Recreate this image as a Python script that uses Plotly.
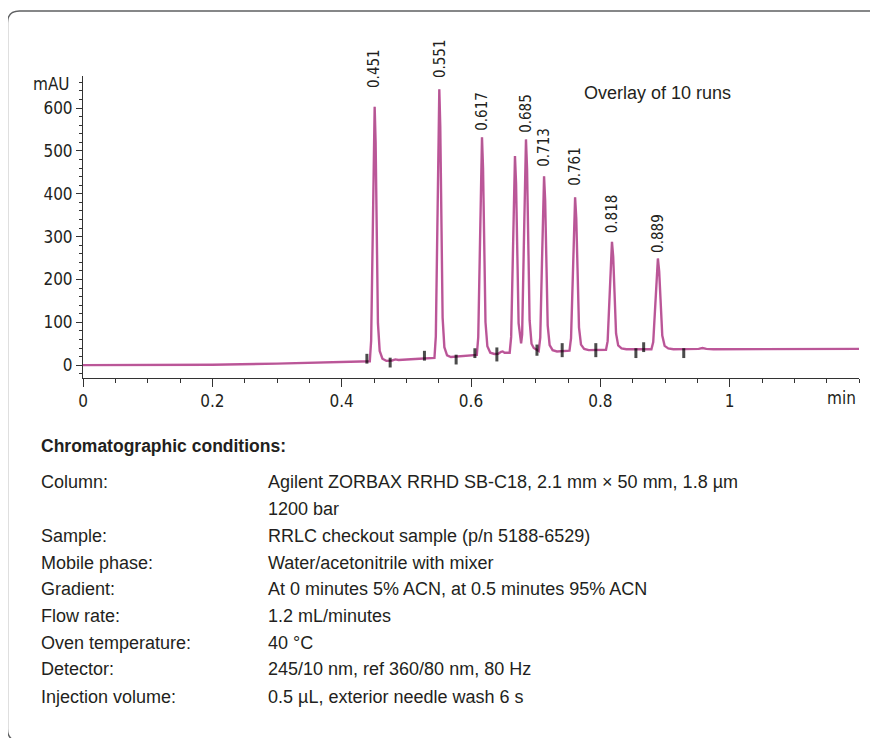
import plotly.graph_objects as go

# ---------------- data ----------------
time_min = [
    0.0, 0.1, 0.2, 0.3, 0.4,
    0.4435, 0.4456, 0.448, 0.4495, 0.451, 0.4525, 0.454, 0.4561, 0.4588, 0.463, 0.469,
    0.478, 0.483, 0.488, 0.52,
    0.5435, 0.5456, 0.548, 0.5495, 0.551, 0.5525, 0.554, 0.5561, 0.5588, 0.563, 0.569,
    0.59,
    0.609, 0.6112, 0.6138, 0.6154, 0.617, 0.6186, 0.6202, 0.6224, 0.6253, 0.6298, 0.6362,
    0.642, 0.6465, 0.649, 0.652,
    0.6598, 0.6621, 0.6647, 0.6664, 0.668, 0.6697, 0.6713, 0.6736,
    0.6775,
    0.6791, 0.6817, 0.6834, 0.685, 0.6867, 0.6883, 0.6906, 0.6936,
    0.697,
    0.7047, 0.7071, 0.7097, 0.7114, 0.713, 0.7147, 0.7163, 0.7186, 0.7216, 0.7262, 0.733,
    0.745,
    0.7523, 0.7547, 0.7575, 0.7593, 0.761, 0.7628, 0.7645, 0.767, 0.7701, 0.775, 0.782,
    0.795,
    0.8088, 0.8113, 0.8143, 0.8162, 0.818, 0.8199, 0.8217, 0.8243, 0.8276, 0.8328, 0.8402,
    0.86,
    0.879, 0.8818, 0.885, 0.887, 0.889, 0.891, 0.893, 0.8958, 0.8994, 0.905, 0.913,
    0.94, 0.952, 0.958, 0.964, 0.975, 1.0, 1.1, 1.2,
]
signal_mau = [
    0, 0, 1, 3.5, 7,
    9, 57, 306, 508, 603, 520, 318, 98, 33, 15, 10,
    11, 13.5, 12, 15,
    17, 67, 331, 544, 644, 556, 343, 111, 42, 23, 19,
    21.5,
    24, 65, 278, 451, 532, 461, 288, 100, 44, 29, 26,
    26.5, 31, 32, 29,
    29, 66, 259, 415, 488, 424, 268, 98,
    51,
    72, 279, 447, 527, 457, 288, 105, 50,
    40,
    33, 64, 236, 375, 441, 384, 244, 93, 47, 35, 32,
    33.5,
    34, 63, 213, 335, 392, 342, 220, 88, 48, 38, 35,
    35.5,
    36, 56, 162, 248, 288, 253, 167, 74, 46, 39, 37,
    36.5,
    37, 54, 143, 215, 249, 219, 147, 69, 45, 39, 37,
    37, 38, 40, 38, 37, 37, 37.5, 38,
]

peak_rt = [0.451, 0.551, 0.617, 0.685, 0.713, 0.761, 0.818, 0.889]
peak_label = ["0.451", "0.551", "0.617", "0.685", "0.713", "0.761", "0.818", "0.889"]
peak_apex = [603, 644, 532, 527, 441, 392, 288, 249]

event_t = [0.439, 0.475, 0.528, 0.577, 0.606, 0.640, 0.702, 0.741, 0.793, 0.855, 0.867, 0.929]
event_mau = [15, 6, 22, 13, 28, 25, 35, 35, 35, 28, 42, 28]

x_tick_vals = [0, 0.2, 0.4, 0.6, 0.8, 1.0]
x_tick_text = ["0", "0.2", "0.4", "0.6", "0.8", "1"]
y_tick_vals = [0, 100, 200, 300, 400, 500, 600]
y_tick_text = ["0", "100", "200", "300", "400", "500", "600"]

cond_title = "Chromatographic conditions:"
cond_labels = ["Column:", "", "Sample:", "Mobile phase:", "Gradient:", "Flow rate:",
               "Oven temperature:", "Detector:", "Injection volume:"]
cond_values = [
    "Agilent ZORBAX RRHD SB-C18, 2.1 mm × 50 mm, 1.8 µm",
    "1200 bar",
    "RRLC checkout sample (p/n 5188-6529)",
    "Water/acetonitrile with mixer",
    "At 0 minutes 5% ACN, at 0.5 minutes 95% ACN",
    "1.2 mL/minutes",
    "40 °C",
    "245/10 nm, ref 360/80 nm, 80 Hz",
    "0.5 µL, exterior needle wash 6 s",
]

# ---------------- styling / layout ----------------
OFF = 8  # the page body adds an 8 px margin
W, H = 878 - OFF, 738 - OFF
ML, MT = 83 - OFF, 76 - OFF
MR = W - (859 - OFF)
MB = H - (378 - OFF)
PW, PH = W - ML - MR, H - MT - MB

NARROW = "DejaVu Sans Condensed, Liberation Sans Narrow, Arial Narrow, sans-serif"
REG = "Liberation Sans, Arial, sans-serif"
TXT = "#231f20"
AX = "#333333"


def px(x):
    """screen pixel x (reference) -> paper"""
    return (x - OFF - ML) / PW


def py(y):
    """screen pixel y (reference) -> paper"""
    return (H - MB - (y - OFF)) / PH


fig = go.Figure()
fig.add_trace(go.Scatter(x=time_min, y=signal_mau, mode="lines",
                         line=dict(color="#c4559f", width=2.4), hoverinfo="skip",
                         showlegend=False))
fig.add_trace(go.Scatter(x=time_min, y=signal_mau, mode="lines",
                         line=dict(color="#7d6a6a", width=0.7), opacity=0.35,
                         hoverinfo="skip", showlegend=False))
fig.add_trace(go.Scatter(x=event_t, y=event_mau, mode="markers",
                         marker=dict(symbol="line-ns", size=[7, 7, 7, 7, 7, 10, 8, 10, 10, 7, 7, 7],
                                     line=dict(color="black", width=3)),
                         hoverinfo="skip", showlegend=False))

annotations = []
label_gap = [17, 9, 5, 5, 7, 9, 7, 4]
for rt, lab, ap, g in zip(peak_rt, peak_label, peak_apex, label_gap):
    annotations.append(dict(x=rt, y=ap, xref="x", yref="y", text=lab, textangle=-90,
                            showarrow=False, xanchor="center", yanchor="bottom", yshift=g,
                            font=dict(family=NARROW, size=15, color=TXT)))

annotations.append(dict(x=px(72), y=py(84), xref="paper", yref="paper", text="mAU",
                        showarrow=False, xanchor="right", yanchor="middle",
                        font=dict(family=NARROW, size=17, color=TXT)))
annotations.append(dict(x=px(858), y=py(398), xref="paper", yref="paper", text="min",
                        showarrow=False, xanchor="right", yanchor="middle",
                        font=dict(family=NARROW, size=17, color=TXT)))
annotations.append(dict(x=px(582), y=py(93), xref="paper", yref="paper",
                        text="Overlay of 10 runs", showarrow=False, xanchor="left",
                        yanchor="middle", font=dict(family=REG, size=18, color=TXT)))

annotations.append(dict(x=px(39), y=py(446), xref="paper", yref="paper",
                        text="<b>" + cond_title + "</b>", showarrow=False, xanchor="left",
                        yanchor="middle", font=dict(family=REG, size=17.5, color=TXT)))
row_y = [482, 509, 536, 562.5, 589, 616, 642.5, 669, 696.5]
for yy, lab, val in zip(row_y, cond_labels, cond_values):
    if lab:
        annotations.append(dict(x=px(39), y=py(yy), xref="paper", yref="paper", text=lab,
                                showarrow=False, xanchor="left", yanchor="middle",
                                font=dict(family=REG, size=18, color=TXT)))
    annotations.append(dict(x=px(266), y=py(yy), xref="paper", yref="paper", text=val,
                            showarrow=False, xanchor="left", yanchor="middle",
                            font=dict(family=REG, size=18, color=TXT)))

# rounded outer frame (runs off the right and bottom edges)
r = 12
frame = (f"M {px(900)},{py(11)} L {px(7.5 + r)},{py(11)} "
         f"Q {px(7.5)},{py(11)} {px(7.5)},{py(11 + r)} "
         f"L {px(7.5)},{py(741 - r)} Q {px(7.5)},{py(741)} {px(7.5 + r)},{py(741)} "
         f"L {px(900)},{py(741)}")

fig.update_layout(
    width=W, height=H,
    margin=dict(l=ML, r=MR, t=MT, b=MB, pad=0),
    paper_bgcolor="white", plot_bgcolor="white",
    showlegend=False,
    annotations=annotations,
    shapes=[dict(type="path", path=frame, xref="paper", yref="paper",
                 line=dict(color="#5f6062", width=1.4), layer="above")],
    xaxis=dict(range=[0, 1.2], tickmode="array", tickvals=x_tick_vals, ticktext=x_tick_text,
               ticks="outside", ticklen=8, tickwidth=1, tickcolor=AX,
               showline=True, linecolor=AX, linewidth=1, showgrid=False, zeroline=False,
               tickfont=dict(family=NARROW, size=17, color=TXT),
               minor=dict(tickmode="linear", tick0=0, dtick=0.05, ticks="outside",
                          ticklen=4, tickwidth=1, tickcolor=AX, showgrid=False)),
    yaxis=dict(range=[-30, 675], tickmode="array", tickvals=y_tick_vals, ticktext=y_tick_text,
               ticks="outside", ticklen=6, tickwidth=1, tickcolor=AX,
               showline=True, linecolor=AX, linewidth=1, showgrid=False, zeroline=False,
               tickfont=dict(family=NARROW, size=17, color=TXT),
               minor=dict(tickmode="linear", tick0=0, dtick=20, ticks="outside",
                          ticklen=3, tickwidth=1, tickcolor=AX, showgrid=False)),
)

fig.write_html("out.html")
